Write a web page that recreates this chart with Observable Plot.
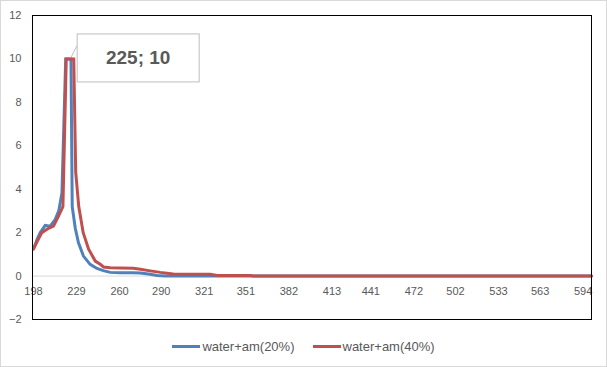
<!DOCTYPE html>
<html>
<head>
<meta charset="utf-8">
<script src="https://cdn.jsdelivr.net/npm/d3@7"></script>
<script src="https://cdn.jsdelivr.net/npm/@observablehq/plot@0.6"></script>
<style>
  html, body { margin: 0; padding: 0; background: white; }
  #wrap { position: relative; width: 607px; height: 367px; overflow: hidden; background: white; }
  #border { position: absolute; left: 0; top: 0; width: 607px; height: 367px; box-sizing: border-box; border: 1px solid #d9d9d9; pointer-events: none; }
  #legend { display: flex; justify-content: center; align-items: center; height: 32px; font-family: "Liberation Sans", Arial, sans-serif; font-size: 13px; color: #595959; }
  .item { display: flex; align-items: center; margin: 0 9px; }
  .swatch { width: 28px; height: 3px; margin-right: 2px; }
  svg { display: block; }
</style>
</head>
<body>
<div id="wrap">
  <div id="chart"></div>
  <div id="legend"></div>
  <div id="border"></div>
</div>
<script>
// Wavelength categories and absorbance values
const seriesNames = ["water+am(20%)", "water+am(40%)"];
const seriesColors = ["#4F81BD", "#C0504D"];

const wl20 = [198, 200.7, 202.8, 206.4, 210, 213.6, 216.2, 218.5, 221.2, 225, 225.9, 228.1, 230.4, 234, 238.8, 243.7, 248.3, 253.3, 260.5, 269.9, 275, 282, 287, 293, 600];
const v20  = [1.25, 1.7, 2.0, 2.33, 2.3, 2.6, 3.0, 3.84, 10, 10, 3.2, 2.2, 1.53, 0.92, 0.54, 0.35, 0.25, 0.17, 0.15, 0.15, 0.14, 0.08, 0.03, 0, 0];

const wl40 = [198, 200.7, 204, 208.8, 212.4, 216, 219.2, 221.6, 227, 228.4, 230.6, 233.8, 237.7, 242.5, 246.1, 248.5, 253.3, 260.5, 269.9, 275, 282.1, 289.4, 298.7, 310, 325.4, 330.4, 354.2, 356.4, 600];
const v40  = [1.25, 1.6, 2.0, 2.2, 2.3, 2.76, 3.2, 10, 10, 4.8, 3.2, 2.0, 1.24, 0.69, 0.54, 0.42, 0.38, 0.37, 0.36, 0.31, 0.24, 0.17, 0.1, 0.08, 0.08, 0.03, 0.03, 0, 0];

const xTicks = [198, 229, 260, 290, 321, 351, 382, 413, 441, 472, 502, 533, 563, 594];
const yTicks = [-2, 0, 2, 4, 6, 8, 10, 12];

const annotation = {x: 225, y: 10, label: "225; 10"};

const d20 = wl20.map((w, i) => ({w, v: v20[i]}));
const d40 = wl40.map((w, i) => ({w, v: v40[i]}));

const chart = Plot.plot({
  width: 607,
  height: 330,
  marginLeft: 32,
  marginRight: 16,
  marginTop: 15,
  marginBottom: 11,
  style: {fontFamily: "Liberation Sans, Arial, sans-serif", fontSize: "11px", color: "#595959", background: "white"},
  x: {type: "linear", domain: [198, 600], range: [33, 591], axis: null},
  y: {domain: [-2, 12], ticks: yTicks, tickSize: 0, tickPadding: 11, label: null},
  marks: [
    Plot.ruleY([0], {stroke: "#d9d9d9", strokeWidth: 1}),
    Plot.text(xTicks, {x: d => d, y: () => 0, dy: 15, text: d => String(d), fill: "#595959", fontSize: 11}),
    Plot.line(d20, {x: "w", y: "v", stroke: seriesColors[0], strokeWidth: 3, strokeLinejoin: "miter", strokeMiterlimit: 4}),
    Plot.line(d40, {x: "w", y: "v", stroke: seriesColors[1], strokeWidth: 3, strokeLinejoin: "miter", strokeMiterlimit: 4}),
    Plot.frame({stroke: "black", strokeWidth: 1})
  ]
});

document.getElementById("chart").appendChild(chart);

// Callout label attached to the data point via the plot's own scales
const sx = chart.scale("x"), sy = chart.scale("y");
const px = sx.apply(annotation.x), py = sy.apply(annotation.y);
const svg = d3.select(chart);
const g = svg.append("g");
const bx = px + 6.7, by = py - 24.5, bw = 122, bh = 48;
g.append("rect").attr("x", bx).attr("y", by).attr("width", bw).attr("height", bh)
  .attr("fill", "white").attr("stroke", "#bfbfbf").attr("stroke-width", 1);
g.append("line").attr("x1", px + 0.5).attr("y1", py - 1).attr("x2", bx).attr("y2", py - 13)
  .attr("stroke", "#bfbfbf").attr("stroke-width", 1);
g.append("text").attr("x", bx + bw / 2).attr("y", by + bh / 2)
  .attr("text-anchor", "middle").attr("dominant-baseline", "central")
  .attr("font-family", "Liberation Sans, Arial, sans-serif").attr("font-weight", "bold")
  .attr("font-size", 19).attr("fill", "#595959").text(annotation.label);

// Legend
const legend = document.getElementById("legend");
seriesNames.forEach((name, i) => {
  const item = document.createElement("div");
  item.className = "item";
  const sw = document.createElement("div");
  sw.className = "swatch";
  sw.style.background = seriesColors[i];
  const label = document.createElement("span");
  label.textContent = name;
  item.appendChild(sw);
  item.appendChild(label);
  legend.appendChild(item);
});
</script>
</body>
</html>
